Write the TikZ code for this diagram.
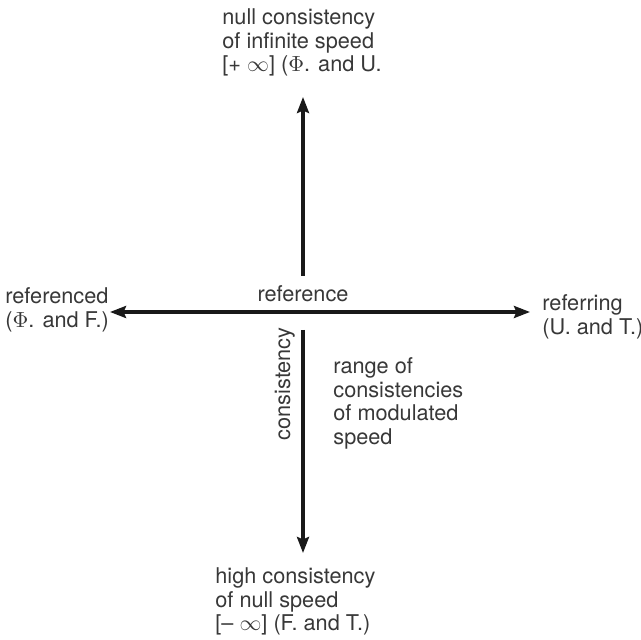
\documentclass[tikz,border=0pt]{standalone}
\usepackage{fontspec}
\setmainfont{TeX Gyre Heros}
\usetikzlibrary{
    arrows.meta,
    positioning
}

\begin{document}
\begin{tikzpicture}[
        x=0.5pt, y=-0.5pt,
        >={Stealth[length=8pt,width=6pt,inset=1.2pt]},
        axis/.style={
            draw=black!90,
            line width=1.6pt
        },
        caption/.style={
            inner sep=0pt,
            align=left,
            text=black!78,
            font=\fontsize{10.85}{11.9}\selectfont
        }
    ]
        \useasboundingbox (0,0) rectangle (641,640);
        % ends of the two axes
        \coordinate (tipLeft) at (110,312);
        \coordinate (tipRight) at (530,312);
        \coordinate (tipUp) at (303,97);
        \coordinate (tipDown) at (303,553);
        \coordinate (startDown) at (303,330);
        % texts
        \node[caption, anchor=north west] (up) at (222,8)
            {null consistency\\of infinite speed\\{[}+ $\infty${]} ($\Phi$. and U.};
        \node[caption, anchor=north west] (down) at (215,567)
            {high consistency\\of null speed\\{[}– $\infty${]} (F. and T.)};
        \node[caption, anchor=north west] (left) at (5,287)
            {referenced\\($\Phi$. and F.)};
        \node[caption, anchor=north west] (right) at (542,294)
            {referring\\(U. and T.)};
        \node[caption, anchor=base, inner sep=5pt] (ref) at (303,302) {reference};
        \node[caption, anchor=base east, rotate=90] (cons) at (290,327) {consistency};
        \node[caption, anchor=north west] (range) at (333,357)
            {range of\\consistencies\\of modulated\\speed};
        % axes
        \draw[axis, <->] (tipLeft) -- (tipRight);
        \draw[axis, ->] (ref.north) -- (tipUp);
        \draw[axis, ->] (startDown) -- (tipDown);
    \end{tikzpicture}
\end{document}
